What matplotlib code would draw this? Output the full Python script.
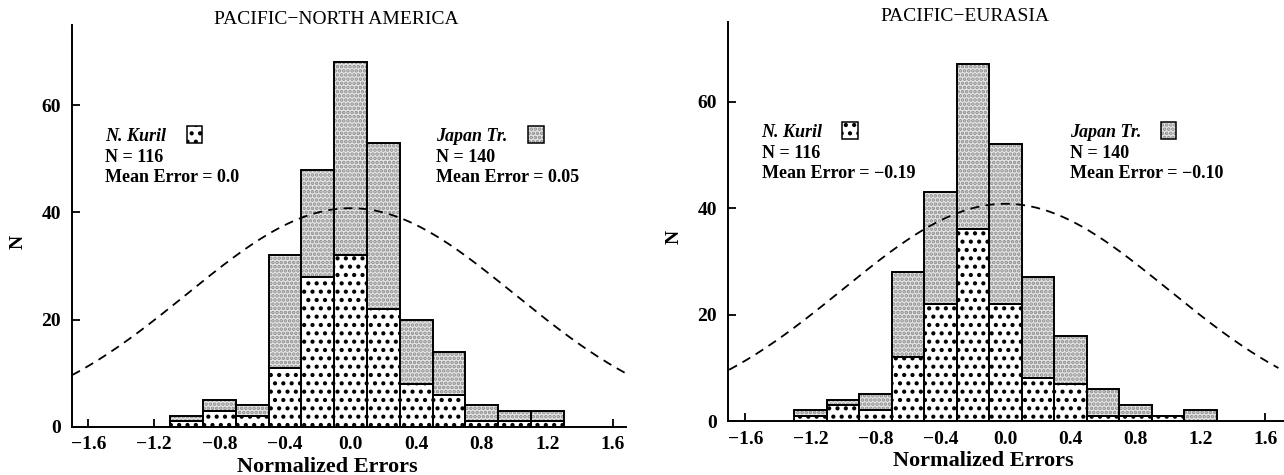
import numpy as np
import matplotlib.pyplot as plt
from matplotlib.patches import Rectangle

plt.rcParams['font.family'] = ['Liberation Serif', 'DejaVu Serif']
plt.rcParams['hatch.linewidth'] = 1.8

# Pacific-North America histogram (bins 0.2 wide), stacked counts
pna_centers = [-1.0, -0.8, -0.6, -0.4, -0.2, 0.0, 0.2, 0.4, 0.6, 0.8, 1.0, 1.2]
pna_kuril = [1, 3, 2, 11, 28, 32, 22, 8, 6, 1, 1, 1]
pna_japan = [1, 2, 2, 21, 20, 36, 31, 12, 8, 3, 2, 2]

# Pacific-Eurasia histogram
peu_centers = [-1.2, -1.0, -0.8, -0.6, -0.4, -0.2, 0.0, 0.2, 0.4, 0.6, 0.8, 1.0, 1.2]
peu_kuril = [1, 3, 2, 12, 22, 36, 22, 8, 7, 1, 1, 1, 0]
peu_japan = [1, 1, 3, 16, 21, 31, 30, 19, 9, 5, 2, 0, 2]

bin_width = 0.2
# reference normal curve (mean 0, sigma 1)
curve_peak = 40.8
curve_mu = 0.0
curve_sigma = 1.0
curve_range = (-1.70, 1.68)

tick_vals = [-1.6, -1.2, -0.8, -0.4, 0.0, 0.4, 0.8, 1.2, 1.6]
tick_labels = ["\u22121.6", "\u22121.2", "\u22120.8", "\u22120.4", "0.0", "0.4", "0.8", "1.2", "1.6"]

panels = [
    dict(title="PACIFIC\u2212NORTH AMERICA", centers=pna_centers, kuril=pna_kuril, japan=pna_japan,
         me_k="Mean Error = 0.0", me_j="Mean Error = 0.05",
         pos=[72/1284, 48.3/475, 554/1284, 401.7/475], xlim=(-1.70, 1.68),
         title_xy=(-0.09, 76.1), txt_k=-1.50, txt_j=0.52, box_k=-1.0, box_j=1.084, txt_y=54.2),
    dict(title="PACIFIC\u2212EURASIA", centers=peu_centers, kuril=peu_kuril, japan=peu_japan,
         me_k="Mean Error = \u22120.19", me_j="Mean Error = \u22120.10",
         pos=[728.3/1284, 54/475, 555/1284, 399.3/475], xlim=(-1.705, 1.71),
         title_xy=(-0.25, 75.9), txt_k=-1.50, txt_j=0.395, box_k=-1.003, box_j=0.955, txt_y=54.1),
]

dots_fill = dict(facecolor="white", edgecolor="black", hatch="..", linewidth=0)
stipple_fill = dict(facecolor="#e6e6e6", edgecolor="#8c8c8c", hatch="....", linewidth=0)
outline = dict(facecolor="none", edgecolor="black", linewidth=1.4)


def stacked_bar(ax, x, h, bottom, fill):
    ax.bar(x, h, width=bin_width, bottom=bottom, zorder=2, **fill)
    ax.bar(x, h, width=bin_width, bottom=bottom, zorder=2.5, **outline)


def key_box(ax, x, y, fill):
    ax.add_patch(Rectangle((x, y), 0.095, 3.2, zorder=4, **fill))
    ax.add_patch(Rectangle((x, y), 0.095, 3.2, zorder=4.5, facecolor="none",
                           edgecolor="black", linewidth=1.1))


fig = plt.figure(figsize=(12.84, 4.75), dpi=100)
for p in panels:
    ax = fig.add_axes(p["pos"])
    c = np.array(p["centers"])
    k = np.array(p["kuril"])
    j = np.array(p["japan"])
    stacked_bar(ax, c, k, 0, dots_fill)
    stacked_bar(ax, c, j, k, stipple_fill)

    xs = np.linspace(curve_range[0], curve_range[1], 300)
    ax.plot(xs, curve_peak * np.exp(-0.5 * ((xs - curve_mu) / curve_sigma) ** 2),
            color="black", lw=1.3, dashes=(5, 3.5), zorder=3)

    ax.set_xlim(*p["xlim"])
    ax.set_ylim(0, 75)
    ax.set_xticks(tick_vals)
    ax.set_xticklabels(tick_labels)
    ax.set_yticks([0, 20, 40, 60])
    for s in ["top", "right"]:
        ax.spines[s].set_visible(False)
    for s in ["left", "bottom"]:
        ax.spines[s].set_linewidth(1.4)
    ax.tick_params(direction="in", length=6, width=1.3, labelsize=14)
    ax.tick_params(axis="x", pad=7)
    ax.tick_params(axis="y", pad=8)
    for lab in ax.get_xticklabels() + ax.get_yticklabels():
        lab.set_fontweight("bold")

    ax.text(0.46, -0.10, "Normalized Errors", transform=ax.transAxes, ha="center", va="center",
            fontsize=16, fontweight="bold")
    ax.text(-0.097, 0.46, "N", transform=ax.transAxes, ha="center", va="center",
            fontsize=14, fontweight="bold", rotation=90)
    ax.text(p["title_xy"][0], p["title_xy"][1], p["title"], ha="center", va="center",
            fontsize=14, clip_on=False)

    y0 = p["txt_y"]
    for x0, bx, name, n, me, fill in [(p["txt_k"], p["box_k"], "N. Kuril", "N = 116", p["me_k"], dots_fill),
                                       (p["txt_j"], p["box_j"], "Japan Tr.", "N = 140", p["me_j"], stipple_fill)]:
        ax.text(x0, y0, name, fontsize=13, fontweight="bold", fontstyle="italic", va="center")
        ax.text(x0, y0 - 3.85, n, fontsize=13, fontweight="bold", va="center")
        ax.text(x0, y0 - 7.7, me, fontsize=13, fontweight="bold", va="center")
        key_box(ax, bx, y0 - 1.2, fill)

fig.savefig("out.png", dpi=100)
